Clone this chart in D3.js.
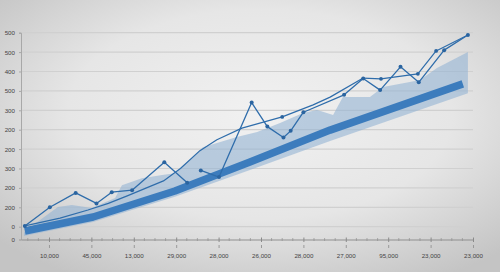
<!DOCTYPE html>
<html>
<head>
<meta charset="utf-8">
<script src="https://cdn.jsdelivr.net/npm/d3@7"></script>
<style>
html,body{margin:0;padding:0;overflow:hidden;background:#e2e2e2;}
svg{display:block;}
text{font-family:"Liberation Sans","DejaVu Sans",sans-serif;}
</style>
</head>
<body>
<svg id="chart" width="500" height="272"></svg>
<script>
// ---- data ----
const xTickLabels = ["10,000","45,000","13,000","29,000","28,000","26,000","28,000","27,000","95,000","23,000","23,000"];
const yTickValues = [-33, 0, 50, 100, 150, 200, 250, 300, 350, 400, 450, 500];
const yTickLabels = ["0","0","200","200","300","200","200","300","500","400","500","500"];

// zigzag series (two segments)
const zigzagA = [[-0.57,2],[0.02,50],[0.63,87],[1.12,60],[1.48,89],[1.96,94],[2.72,166],[3.26,113]];
const zigzagB = [[3.58,145],[4.01,128],[4.78,320],[5.15,258],[5.53,230],[5.70,247],[6.00,295],[6.96,340],[7.41,382],[7.81,352],[8.29,412],[8.72,372],[9.32,455],[9.88,494]];

// thin trend line
const trend = [[-0.57,2],[0.26,22],[0.92,43],[1.4,60],[1.86,80],[2.3,100],[2.7,118],[3.1,150],[3.56,196],[3.96,224],[4.55,254],[5.5,283],[6.23,314],[6.63,334],[7.41,383],[7.83,381],[8.7,394],[9.13,453],[9.88,494]];
const trendMarkers = [[5.5,283],[7.83,381],[8.7,394],[9.13,453]];

// thick band centre line
const band = [[-0.57,-11],[1.04,25],[2.97,92],[4.74,167],[6.63,249],[9.76,368]];

// shaded range: upper and lower edges
const rangeUpper = [[-0.59,-14],[-0.21,17],[0.21,51],[0.54,56],[1.01,48],[1.56,74],[1.72,107],[2.19,125],[2.67,133],[2.97,138],[3.63,205],[4.43,231],[4.91,244],[5.45,267],[5.99,293],[6.32,301],[6.46,296],[6.70,288],[6.93,334],[7.57,334],[7.88,360],[8.51,373],[8.75,378],[9.15,409],[9.88,450]];
const rangeLower = [[-0.59,-24],[1.04,12],[2.97,77],[4.74,146],[6.63,221],[9.88,344]];

// ---- drawing ----
const svg = d3.select("#chart");
const W = 500, H = 272;

const defs = svg.append("defs");
const rg = defs.append("radialGradient").attr("id","bg")
  .attr("cx","52%").attr("cy","42%").attr("r","70%");
rg.append("stop").attr("offset","0%").attr("stop-color","#f1f1f1");
rg.append("stop").attr("offset","55%").attr("stop-color","#e6e6e6");
rg.append("stop").attr("offset","100%").attr("stop-color","#c4c4c4");
svg.append("rect").attr("width",W).attr("height",H).attr("fill","url(#bg)");

const x = d3.scaleLinear().domain([-0.66, 10]).range([21, 473]);
const y = d3.scaleLinear().domain([-33, 500]).range([239.5, 32.7]);

// gridlines
svg.append("g").selectAll("line").data(yTickValues.filter(v => v >= 0)).join("line")
  .attr("x1", x(-0.66)).attr("x2", x(10))
  .attr("y1", d => y(d)).attr("y2", d => y(d))
  .attr("stroke", "#d0d0d0").attr("stroke-width", 1.2);

// y axis
const yAxis = d3.axisLeft(y).tickValues(yTickValues)
  .tickFormat((d,i) => yTickLabels[i]).tickSize(2).tickPadding(4);
const gy = svg.append("g").attr("transform", `translate(${x(-0.66)},0)`).call(yAxis);
gy.select(".domain").attr("stroke","#a8a8a8");
gy.selectAll(".tick line").attr("stroke","#a8a8a8");
gy.selectAll("text").attr("font-size", 6.2).attr("fill", "#444");

// x axis minor ticks
const minor = d3.range(-0.5, 10.01, 0.25).filter(v => Math.abs(v - Math.round(v)) > 0.01);
svg.append("g").selectAll("line").data(minor).join("line")
  .attr("x1", d => x(d)).attr("x2", d => x(d))
  .attr("y1", y(-33) - 1.5).attr("y2", y(-33) + 1.5)
  .attr("stroke", "#999").attr("stroke-width", 0.8);

// x axis
const xAxis = d3.axisBottom(x).tickValues(d3.range(0, 11))
  .tickFormat(d => xTickLabels[d]).tickSizeInner(2.5).tickSizeOuter(0).tickPadding(12);
const gx = svg.append("g").attr("transform", `translate(0,${y(-33)})`).call(xAxis);
gx.select(".domain").attr("stroke","#8f8f8f").attr("stroke-width",1.2);
gx.selectAll(".tick line").attr("stroke","#8a8a8a").attr("y1",-2);
gx.selectAll(".tick").append("line")
  .attr("y1", 5.5).attr("y2", 8.5).attr("stroke", "#999");
gx.selectAll("text").attr("font-size", 6.2).attr("fill", "#444");

// shaded range
const rangePoly = rangeUpper.concat(rangeLower.slice().reverse());
svg.append("path")
  .attr("d", d3.line().x(d => x(d[0])).y(d => y(d[1]))(rangePoly) + "Z")
  .attr("fill", "#94b4d4").attr("fill-opacity", 0.6);

// thick band
svg.append("path").datum(band)
  .attr("d", d3.line().x(d => x(d[0])).y(d => y(d[1])))
  .attr("fill","none").attr("stroke","#3c7cbd").attr("stroke-width",7.5)
  .attr("stroke-linejoin","round");

const lineGen = d3.line().x(d => x(d[0])).y(d => y(d[1]));
// trend line
svg.append("path").datum(trend).attr("d", lineGen)
  .attr("fill","none").attr("stroke","#2f6dab").attr("stroke-width",1.2)
  .attr("stroke-linejoin","round");

// zigzag
[zigzagA, zigzagB].forEach(seg => {
  svg.append("path").datum(seg).attr("d", lineGen)
    .attr("fill","none").attr("stroke","#2f6dab").attr("stroke-width",1.3)
    .attr("stroke-linejoin","round");
  svg.append("g").selectAll("circle").data(seg).join("circle")
    .attr("cx", d => x(d[0])).attr("cy", d => y(d[1])).attr("r", 2)
    .attr("fill", "#2a64a0");
});
svg.append("g").selectAll("circle").data(trendMarkers).join("circle")
  .attr("cx", d => x(d[0])).attr("cy", d => y(d[1])).attr("r", 1.9)
  .attr("fill", "#2a64a0");
</script>
</body>
</html>
